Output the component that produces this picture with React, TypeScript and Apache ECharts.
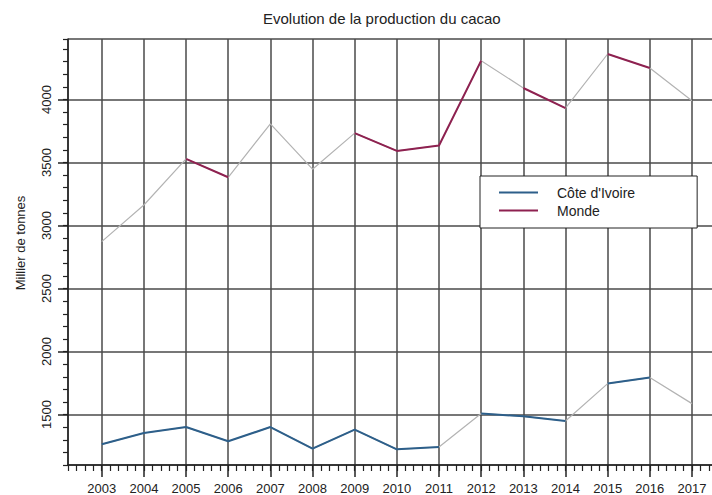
import React, { useEffect, useRef } from "react";
import * as echarts from "echarts";

const titleText = "Evolution de la production du cacao";
const yAxisName = "Millier de tonnes";
const years = [2003, 2004, 2005, 2006, 2007, 2008, 2009, 2010, 2011, 2012, 2013, 2014, 2015, 2016, 2017];
const coteIvoire = [1264, 1354, 1401, 1288, 1401, 1230, 1381, 1224, 1243, 1508, 1486, 1449, 1746, 1794, 1587];
const monde = [2872, 3163, 3529, 3383, 3807, 3447, 3733, 3592, 3635, 4308, 4091, 3932, 4361, 4250, 3990];
// segments (year -> next year) drawn in the series colour; the rest are grey
const coteColoredFrom = [2003, 2004, 2005, 2006, 2007, 2008, 2009, 2010, 2012, 2013, 2015];
const mondeColoredFrom = [2005, 2009, 2010, 2011, 2013, 2015];
const yMin = 1100;
const yMax = 4480;
const xMin = 2002.2;
const xMax = 2017.8;

const FONT = "'Liberation Sans', Arial, Helvetica, sans-serif";
const BLUE = "#2d5f8a";
const RED = "#8e2150";
const GREY = "#b3b3b3";
const GRIDC = "#4a4a4a";

function coloredRuns(values: number[], from: number[]) {
  const idx = from.map((y) => years.indexOf(y)).sort((a, b) => a - b);
  const runs: number[][][] = [];
  let cur: number[][] | null = null;
  let last = -10;
  idx.forEach((i) => {
    if (i !== last + 1 || !cur) {
      cur = [[years[i], values[i]]];
      runs.push(cur);
    }
    cur.push([years[i + 1], values[i + 1]]);
    last = i;
  });
  return runs;
}

export default function App() {
  const ref = useRef<HTMLDivElement>(null);
  useEffect(() => {
    if (!ref.current) return;
    const chart = echarts.init(ref.current, null, { renderer: "svg" });
    const pairs = (vals: number[]) => years.map((y, i) => [y, vals[i]]);
    const base = (name: string, vals: number[]) => ({
      type: "line",
      name,
      data: pairs(vals),
      symbol: "none",
      color: GREY,
      lineStyle: { color: GREY, width: 1.2 },
      z: 3,
      silent: true,
    });
    const overlay = (name: string, color: string, vals: number[], from: number[]) =>
      coloredRuns(vals, from).map((run) => ({
        type: "line",
        name,
        data: run,
        symbol: "none",
        color,
        itemStyle: { color },
        lineStyle: { color, width: 2 },
        z: 4,
      }));
    const option: any = {
      animation: false,
      textStyle: { fontFamily: FONT },
      title: {
        text: titleText,
        left: 263,
        top: 11,
        padding: 0,
        textStyle: { fontFamily: FONT, fontSize: 15, fontWeight: "normal", color: "#222" },
      },
      legend: {
        orient: "vertical",
        left: 480,
        top: 176,
        padding: [8, 62, 9, 19],
        itemWidth: 39,
        itemHeight: 2,
        itemGap: 1,
        borderColor: "#222",
        borderWidth: 1,
        borderRadius: 0,
        backgroundColor: "#fff",
        textStyle: { fontFamily: FONT, fontSize: 14, color: "#222", lineHeight: 17, padding: [0, 0, 0, 14] },
        data: [
          { name: "Côte d'Ivoire", icon: "rect" },
          { name: "Monde", icon: "rect" },
        ],
      },
      grid: { left: 68, top: 39, width: 657.7, height: 426, containLabel: false, outerBoundsMode: "none" },
      xAxis: [
        {
          type: "value",
          position: "bottom",
          min: xMin,
          max: xMax,
          splitNumber: 15,
          axisLine: { show: true, lineStyle: { color: "#222", width: 1.5 } },
          axisTick: { show: true, length: 12, lineStyle: { color: "#222", width: 1.5 } },
          axisLabel: {
            show: true,
            showMinLabel: false,
            showMaxLabel: false,
            fontSize: 13,
            color: "#222",
            margin: 17,
            formatter: (v: number) => String(Math.round(v)),
          },
          splitLine: { show: true, lineStyle: { color: GRIDC, width: 1.5 } },
        },
        {
          type: "value",
          position: "bottom",
          min: xMin,
          max: xMax,
          interval: 0.2,
          axisLine: { show: false },
          axisTick: { show: true, length: 6, lineStyle: { color: "#222", width: 1.2 } },
          axisLabel: { show: false },
          splitLine: { show: false },
        },
      ],
      yAxis: [
        {
          type: "value",
          position: "left",
          min: yMin,
          max: yMax,
          splitNumber: 7,
          name: yAxisName,
          nameLocation: "middle",
          nameRotate: 90,
          nameGap: 41,
          nameTextStyle: { fontFamily: FONT, fontSize: 13, color: "#222", padding: [0, 0, 0, 18] },
          axisLine: { show: true, lineStyle: { color: "#222", width: 1.5 } },
          axisTick: { show: true, length: 10, lineStyle: { color: "#222", width: 1.5 } },
          axisLabel: {
            show: true,
            rotate: 90,
            showMinLabel: false,
            showMaxLabel: false,
            fontSize: 13,
            color: "#222",
            margin: 15,
            formatter: (v: number) => String(Math.round(v)),
          },
          splitLine: { show: true, lineStyle: { color: GRIDC, width: 1.5 } },
        },
        {
          type: "value",
          position: "left",
          min: yMin,
          max: yMax,
          interval: 100,
          axisLine: { show: false },
          axisTick: { show: true, length: 5, lineStyle: { color: "#222", width: 1.2 } },
          axisLabel: { show: false },
          splitLine: { show: false },
        },
      ],
      series: [
        base("Côte d'Ivoire (gris)", coteIvoire),
        base("Monde (gris)", monde),
        ...overlay("Côte d'Ivoire", BLUE, coteIvoire, coteColoredFrom),
        ...overlay("Monde", RED, monde, mondeColoredFrom),
      ],
    };
    chart.setOption(option);
    return () => chart.dispose();
  }, []);
  return (
    <div
      ref={ref}
      style={{ position: "fixed", left: 0, top: 0, width: 712, height: 495, background: "#fff" }}
    />
  );
}
